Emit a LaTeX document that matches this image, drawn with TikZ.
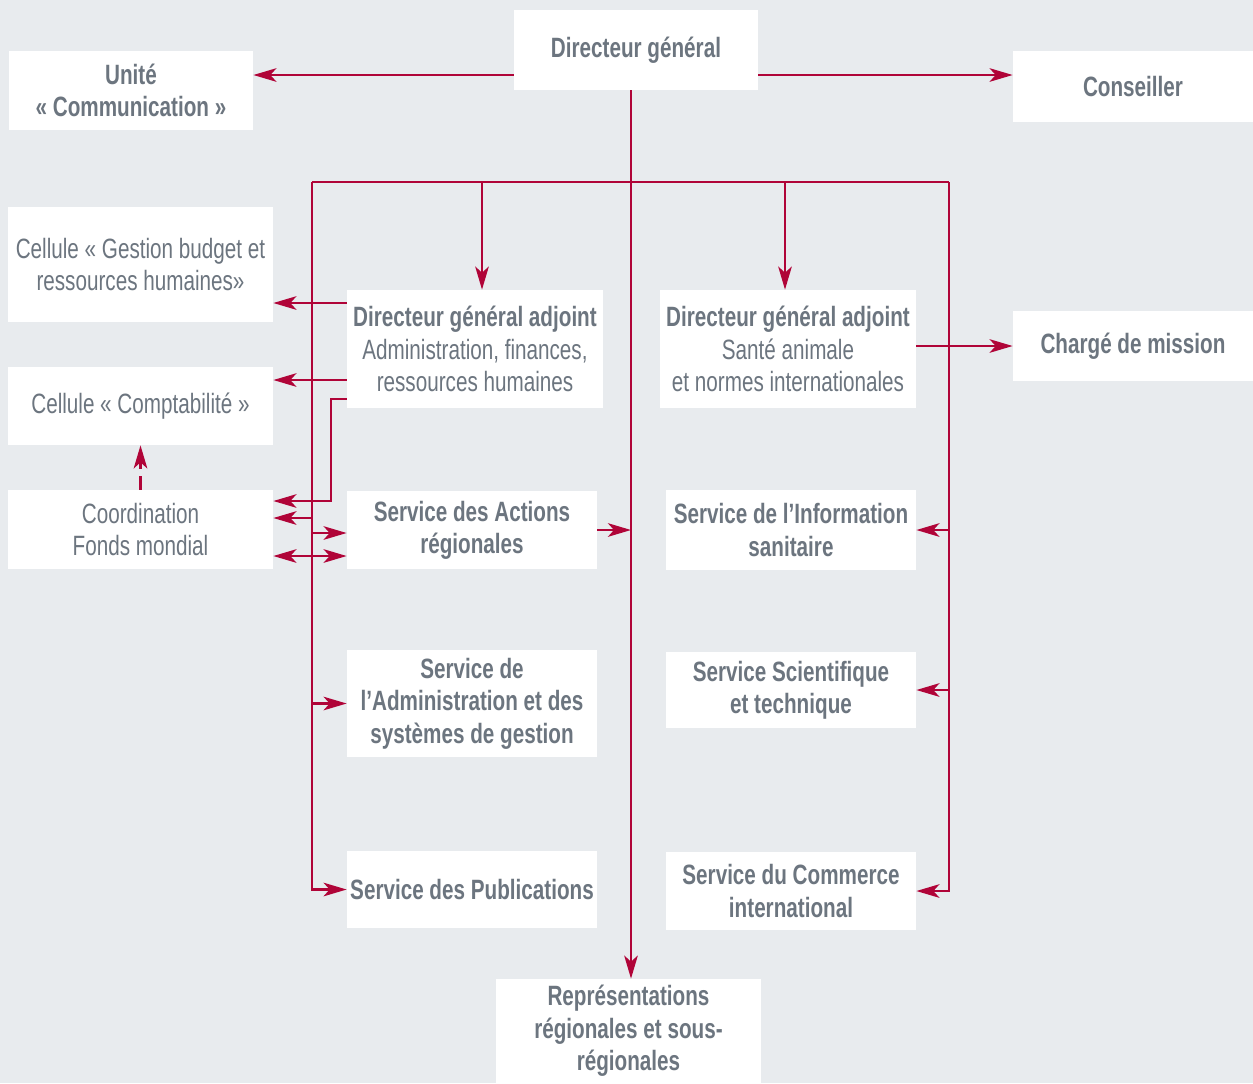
\documentclass[tikz,border=0pt]{standalone}
\usepackage{fontspec}
\setmainfont{Liberation Sans}[FakeStretch=0.74]
\usetikzlibrary{arrows.meta}
\usetikzlibrary{positioning}
\definecolor{bgblue}{RGB}{232,235,238}
\definecolor{boxtext}{RGB}{108,117,127}
\definecolor{linkred}{RGB}{176,4,56}

\begin{document}
\begin{tikzpicture}[x=0.02cm, y=-0.02cm,
    wh/.style 2 args={minimum width=#1*0.02cm, minimum height=#2*0.02cm},
    unit/.style={fill=white, text=boxtext, align=center, inner sep=0pt,
      font=\fontsize{15.9}{18.4}\selectfont\bfseries},
    cell/.style={unit, font=\fontsize{15.9}{18.4}\selectfont},
    link/.style={draw=linkred, line width=1.6pt},
    arr/.style={link, -{Stealth[length=0.46cm, width=0.27cm, inset=0.12cm]}},
    both/.style={link, {Stealth[length=0.46cm, width=0.27cm, inset=0.12cm]}-{Stealth[length=0.46cm, width=0.27cm, inset=0.12cm]}}]
    \fill[bgblue] (0,0) rectangle (1253,1083);

    \node[unit, wh={244}{80}] (dg) at (636,50) {Directeur général};
    \node[unit, wh={244}{79}] (unite) at (131,90.5) {Unité\\« Communication »};
    \node[unit, wh={240}{71}] (conseiller) at (1133,86.5) {Conseiller};

    \node[cell, wh={265}{115}] (budget) at (140.5,264.5) {Cellule « Gestion budget et\\ressources humaines»};
    \node[cell, wh={265}{78}] (compta) at (140.5,406) {Cellule « Comptabilité »};
    \node[cell, wh={265}{79}] (coord) at (140.5,529.5) {Coordination\\Fonds mondial};

    \node[cell, wh={256}{118}] (dga1) at (475,349) {\textbf{Directeur général adjoint}\\Administration, finances,\\ressources humaines};
    \node[cell, wh={256}{118}] (dga2) at (788,349) {\textbf{Directeur général adjoint}\\Santé animale\\et normes internationales};
    \node[unit, wh={240}{70}] (charge) at (1133,346) {Chargé de mission};

    \node[unit, wh={250}{78}] (actions) at (472,530) {Service des Actions\\régionales};
    \node[unit, wh={250}{107}] (admin) at (472,703.5) {Service de\\l’Administration et des\\systèmes de gestion};
    \node[unit, wh={250}{77}] (publi) at (472,889.5) {Service des Publications};

    \node[unit, wh={250}{80}] (info) at (791,530) {Service de l’Information\\sanitaire};
    \node[unit, wh={250}{76}] (scient) at (791,690) {Service Scientifique\\et technique};
    \node[unit, wh={250}{78}] (commerce) at (791,891) {Service du Commerce\\international};

    \node[unit, wh={265}{104}] (repr) at (628.5,1031) {Représentations\\régionales et sous-\\régionales};

    \coordinate (tl) at (312,182);
    \coordinate (tr) at (949,182);

    \draw[arr] (dg.west |- 0,75) -- (unite.east |- 0,75);
    \draw[arr] (dg.east |- 0,75) -- (conseiller.west |- 0,75);
    \draw[arr] (dg.south -| 631,0) -- (repr.north -| 631,0);

    \draw[link] (tl) -- (tr);
    \draw[arr] (tl) |- (publi.west);
    \draw[arr] (tr) |- (commerce.east);
    \draw[arr] (tl -| 482,0) -- (dga1.north -| 482,0);
    \draw[arr] (tr -| 785,0) -- (dga2.north -| 785,0);

    \draw[arr] (info.east -| tr) -- (info.east);
    \draw[arr] (scient.east -| tr) -- (scient.east);
    \draw[arr] (admin.west -| tl) -- (admin.west);

    \draw[arr] (dga1.west |- 0,303) -- (budget.east |- 0,303);
    \draw[arr] (dga1.west |- 0,380) -- (compta.east |- 0,380);
    \draw[arr] (dga1.west |- 0,399) -- (331,399) |- (coord.east |- 0,501);
    \draw[arr] (tl |- 0,518) -- (coord.east |- 0,518);
    \draw[arr] (tl |- 0,533) -- (actions.west |- 0,533);
    \draw[both] (coord.east |- 0,556) -- (actions.west |- 0,556);
    \draw[arr] (actions.east) -- (actions.east -| 631,0);

    \draw[arr] (dga2.east |- charge.west) -- (charge.west);
    \draw[arr, dash pattern=on 8pt off 4pt] (coord.north) -- (compta.south);
\end{tikzpicture}
\end{document}
